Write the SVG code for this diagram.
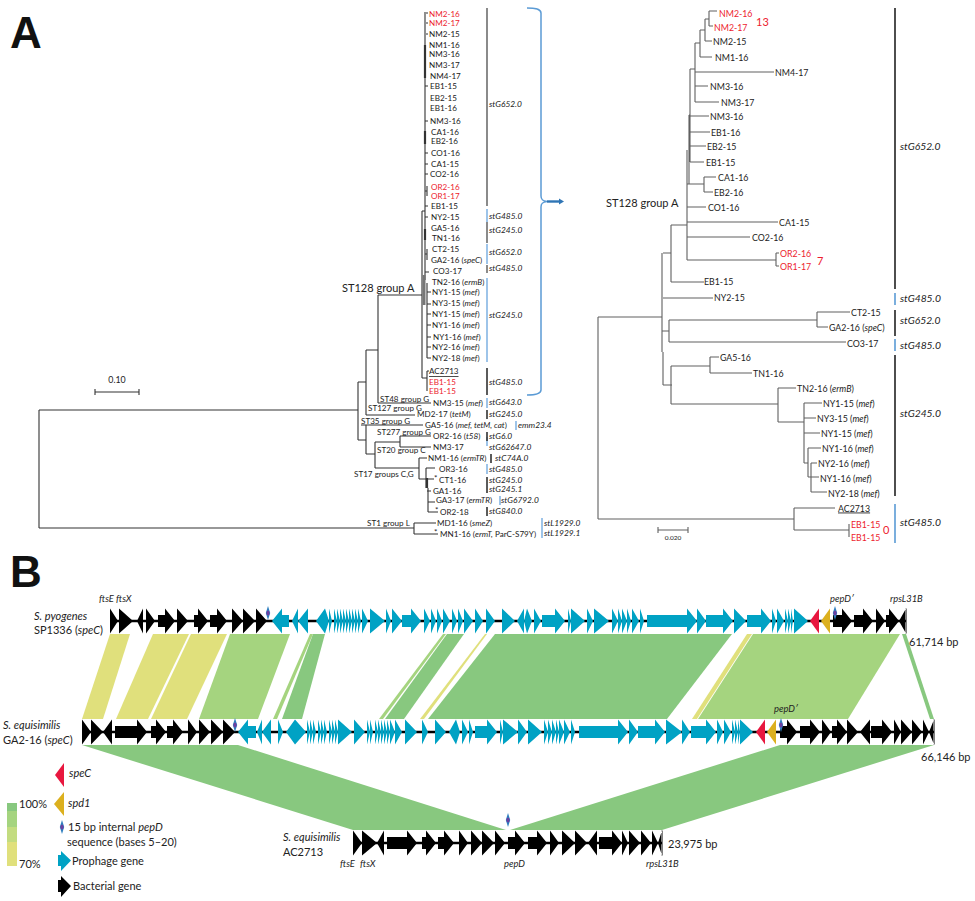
<svg xmlns="http://www.w3.org/2000/svg" width="975" height="901" viewBox="0 0 975 901">
<style>
text{font-family:Lato,"Liberation Sans",sans-serif;fill:#222;dominant-baseline:central}
.s{font-size:8.100px}
.m{font-size:8.800px}
.c{font-size:11px}
.st{font-size:8.400px;font-style:italic}
.sr{font-size:10.300px;font-style:italic}
.r{fill:#ed1c2e}
.i{font-style:italic}
.pan{font-family:"Liberation Sans",sans-serif;font-size:44px;font-weight:bold;fill:#111}
.gl{font-size:9.400px;font-style:italic}
.tr{fill:none;stroke:#333;stroke-width:1.100}
.trr{fill:none;stroke:#606060;stroke-width:1.100}
.bk{fill:none;stroke:#333;stroke-width:1.600}
.bl{fill:none;stroke:#86b6e4;stroke-width:1.600}
.spine{stroke:#000;stroke-width:2.600}
.k{fill:#000}.b{fill:#00a2c4}.re{fill:#e8173f}.go{fill:#dcb01e}
.y1{fill:#88c87f}.y2{fill:#a5d47f}.y3{fill:#c3dc80}.y4{fill:#e0e07c}
</style>
<defs>
<g id="mk"><path d="M0-7L2.200 0 0 7-2.200 0z" fill="#2f7fc0"/><ellipse rx="1.600" ry="2.600" fill="#6b3fa0"/></g>
</defs>

<text class="pan" x="10" y="32">A</text>
<text class="pan" x="10" y="571">B</text>

<g id="left-tree-connectors" class="tr">
<path d="M39 410V528M39 410H358M39 528H414M358 382V440M358 382H366M366 350V415M366 350H378M378 295V403M378 295H422M378 403H431M366 415H415M358 440H366M366 425V454M361 425H423M366 454H375M375 442V468M375 442H400M400 436V447M400 436H431M400 447H431M375 468H419M419 458V479M419 458H427M419 479H426M426 468V488M426 468H435M427 479H434M427 491H431M428 488V512M428 502H435M428 512H438M414 523V534M414 523H436M414 534H438"/>
<path d="M425 12V211M422 211V378M425 211V280M422 211H425M426 13H428M426 23H428M426 34H428M425 86H428M425 121H428M425 153H428M425 164H428M425 174H428M425 206H428M425 217H428M425 272H429M425 191H427M427 186V196M425 254H427M427 249V260M427 283V358M427 292H431M427 304H431M427 314H431M427 325H431M427 337H431M427 347H431M427 358H431M422 378H427M427 371V391M427 371H429"/>
<path stroke-width="2.200" d="M425 45V78M425 131V144M425 229V240M427 478V488"/>
<path stroke-width="3" stroke="#777" d="M424 275V305"/>
</g>

<g id="left-tips">
<g id="L01"><text class="s r" x="429" y="14">NM2-16</text></g>
<g id="L02"><text class="s r" x="429" y="23">NM2-17</text></g>
<g id="L03"><text class="s" x="429" y="34">NM2-15</text></g>
<g id="L04"><text class="s" x="429" y="45">NM1-16</text></g>
<g id="L05"><text class="s" x="429" y="54">NM3-16</text></g>
<g id="L06"><text class="s" x="429" y="65">NM3-17</text></g>
<g id="L07"><text class="s" x="430" y="76">NM4-17</text></g>
<g id="L08"><text class="s" x="430" y="86">EB1-15</text></g>
<g id="L09"><text class="s" x="430" y="98">EB2-15</text></g>
<g id="L10"><text class="s" x="430" y="108">EB1-16</text></g>
<g id="L11"><text class="s" x="430" y="121">NM3-16</text></g>
<g id="L12"><text class="s" x="431" y="132">CA1-16</text></g>
<g id="L13"><text class="s" x="431" y="141">EB2-16</text></g>
<g id="L14"><text class="s" x="431" y="153">CO1-16</text></g>
<g id="L15"><text class="s" x="431" y="164">CA1-15</text></g>
<g id="L16"><text class="s" x="430" y="174">CO2-16</text></g>
<g id="L17"><text class="s r" x="431" y="187">OR2-16</text></g>
<g id="L18"><text class="s r" x="431" y="196">OR1-17</text></g>
<g id="L19"><text class="s" x="431" y="206">EB1-15</text></g>
<g id="L20"><text class="s" x="431" y="217">NY2-15</text></g>
<g id="L21"><text class="s" x="431" y="228">GA5-16</text></g>
<g id="L22"><text class="s" x="432" y="238">TN1-16</text></g>
<g id="L23"><text class="s" x="432" y="249">CT2-15</text></g>
<g id="L24"><text class="s" x="431" y="260">GA2-16 (<tspan class="i">speC</tspan>)</text></g>
<g id="L25"><text class="s" x="433" y="271">CO3-17</text></g>
<g id="L26"><text class="s" x="432" y="282">TN2-16 (<tspan class="i">ermB</tspan>)</text></g>
<g id="L27"><text class="s" x="432" y="292">NY1-15 (<tspan class="i">mef</tspan>)</text></g>
<g id="L28"><text class="s" x="432" y="303">NY3-15 (<tspan class="i">mef</tspan>)</text></g>
<g id="L29"><text class="s" x="432" y="314">NY1-15 (<tspan class="i">mef</tspan>)</text></g>
<g id="L30"><text class="s" x="432" y="325">NY1-16 (<tspan class="i">mef</tspan>)</text></g>
<g id="L31"><text class="s" x="433" y="337">NY1-16 (<tspan class="i">mef</tspan>)</text></g>
<g id="L32"><text class="s" x="432" y="347">NY2-16 (<tspan class="i">mef</tspan>)</text></g>
<g id="L33"><text class="s" x="432" y="358">NY2-18 (<tspan class="i">mef</tspan>)</text></g>
<g id="L34"><text class="s" x="429" y="371" text-decoration="underline">AC2713</text></g>
<g id="L35"><text class="s r" x="429" y="382">EB1-15</text></g>
<g id="L36"><text class="s r" x="429" y="391">EB1-15</text></g>
<g id="L37"><text class="s" x="433" y="403">NM3-15 (<tspan class="i">mef</tspan>)</text></g>
<g id="L38"><text class="s" x="417" y="414">MD2-17 (<tspan class="i">tetM</tspan>)</text></g>
<g id="L39"><text class="s" x="425" y="425">GA5-16 (<tspan class="i">mef, tetM, cat</tspan>)</text></g>
<g id="L40"><text class="s" x="433" y="436">OR2-16 (<tspan class="i">t58</tspan>)</text></g>
<g id="L41"><text class="s" x="433" y="447">NM3-17</text></g>
<g id="L42"><text class="s" x="428" y="458">NM1-16 (<tspan class="i">ermTR</tspan>)</text></g>
<g id="L43"><text class="s" x="439" y="469">OR3-16</text></g>
<g id="L44"><text class="s" x="434" y="478">*</text><text class="s" x="439" y="480">CT1-16</text></g>
<g id="L45"><text class="s" x="433" y="491">GA1-16</text></g>
<g id="L46"><text class="s" x="436" y="500">GA3-17 (<tspan class="i">ermTR</tspan>)</text></g>
<g id="L47"><text class="s" x="435" y="510">*</text><text class="s" x="440" y="512">OR2-18</text></g>
<g id="L48"><text class="s" x="437" y="523">MD1-16 (<tspan class="i">smeZ</tspan>)</text></g>
<g id="L49"><text class="s" x="434" y="532">*</text><text class="s" x="440" y="534">MN1-16 (<tspan class="i">ermT,</tspan> ParC-S79Y)</text></g>
</g>

<g id="left-groups">
<text class="c" x="342" y="287">ST128 group A</text>
<text class="s" x="380" y="399">ST48 group G</text>
<text class="s" x="368" y="408">ST127 group G</text>
<text class="s" x="361" y="421">ST35 group G</text>
<text class="s" x="377" y="432">ST277 group G</text>
<text class="s" x="377" y="450">ST20 group C</text>
<text class="s" x="354" y="474">ST17 groups C,G</text>
<text class="s" x="367" y="523">ST1 group L</text>
</g>

<g id="left-scale">
<text class="m" x="117" y="379" text-anchor="middle">0.10</text>
<path class="tr" d="M95 392H139M95 389V395M139 389V395"/>
</g>

<g id="left-st-bars">
<path class="bk" style="stroke:#6e6e6e" d="M487 8V206M487 222V243M487 265V273"/>
<path class="bl" d="M487 209V222M487 244V264M487 278V362M487 398V408M516 421V430M487 437V446M487 464V474M500 496V505M542 518V538"/>
<path class="bk" d="M487 368V395M487 410V419M491 454V463M487 477V493M487 507V516M487 432V441"/>
</g>
<g id="left-st-labels">
<text class="st" x="489" y="104">stG652.0</text>
<text class="st" x="489" y="216">stG485.0</text>
<text class="st" x="489" y="230">stG245.0</text>
<text class="st" x="489" y="252">stG652.0</text>
<text class="st" x="489" y="268">stG485.0</text>
<text class="st" x="489" y="315">stG245.0</text>
<text class="st" x="489" y="382">stG485.0</text>
<text class="st" x="489" y="402">stG643.0</text>
<text class="st" x="489" y="414">stG245.0</text>
<text class="st" x="518" y="425">emm23.4</text>
<text class="st" x="489" y="436">stG6.0</text>
<text class="st" x="489" y="447">stG62647.0</text>
<text class="st" x="495" y="458">stC74A.0</text>
<text class="st" x="489" y="469">stG485.0</text>
<text class="st" x="489" y="480">stG245.0</text>
<text class="st" x="489" y="489">stG245.1</text>
<text class="st" x="501" y="500">stG6792.0</text>
<text class="st" x="489" y="511">stG840.0</text>
<text class="st" x="544" y="523">stL1929.0</text>
<text class="st" x="544" y="533">stL1929.1</text>
</g>

<g id="brace">
<path d="M527 8C533 8 541 8 541 13V196C541 200 543 201 547 201.500C543 202 541 203 541 207V390C541 394 533 395 527 395" fill="none" stroke="#5b9bd5" stroke-width="1.500"/>
<path d="M547 201.500H560" fill="none" stroke="#2f75b5" stroke-width="2.400"/>
<path d="M559 198.500L564 201.500 559 204.500z" fill="#2f75b5"/>
</g>

<g id="right-tree-connectors" class="trr">
<path d="M598 317V519M598 317H662M598 519H794M794 508V530M794 508H835M794 530H849M849 524V537M662 253V352M663 253H671M671 225V282M671 225H687M671 282H704M663 298H713M662 331H669M669 320V342M669 320H817M817 312V327M817 312H850M817 327H828M669 342H846M663 352V385M663 385H672M671 366V404M671 366H710M710 357V373M710 357H719M710 373H752M671 404H778M778 388V422M778 388H796M778 422H804M804 403V463M804 403H822M804 418H816M804 433H820M804 463H808M808 448V477M808 448H821M808 477H811M811 463V492M811 463H817M811 477H819M811 492H827"/>
<path d="M687 150V260M687 260H776M776 253V266M776 253H779M776 266H779M687 237H750M687 222H778M687 207H706M687 184H704M704 177V192M704 177H716M704 192H713M689 115V184M689 115H690M690 69V162M690 69H695M695 43V102M695 43H700M700 30V57M700 57H712M700 30H705M705 19V41M705 19H709M709 11V26M709 11H717M709 26H713M705 41H712M695 72H774M695 86H708M695 102H719M690 116H709M690 132H710M690 146H706M690 162H704"/>
</g>

<g id="right-tips">
<g id="R01"><text class="m r" x="719" y="13">NM2-16</text></g>
<g id="R02"><text class="m r" x="714" y="27">NM2-17</text></g>
<g id="R03"><text class="m" x="713" y="41.500">NM2-15</text></g>
<g id="R04"><text class="m" x="715" y="57">NM1-16</text></g>
<g id="R05"><text class="m" x="775" y="72">NM4-17</text></g>
<g id="R06"><text class="m" x="710" y="86.500">NM3-16</text></g>
<g id="R07"><text class="m" x="721" y="102">NM3-17</text></g>
<g id="R08"><text class="m" x="710" y="116.500">NM3-16</text></g>
<g id="R09"><text class="m" x="711" y="132">EB1-16</text></g>
<g id="R10"><text class="m" x="707" y="146">EB2-15</text></g>
<g id="R11"><text class="m" x="706" y="162">EB1-15</text></g>
<g id="R12"><text class="m" x="718" y="177">CA1-16</text></g>
<g id="R13"><text class="m" x="714" y="192">EB2-16</text></g>
<g id="R14"><text class="m" x="708" y="207">CO1-16</text></g>
<g id="R15"><text class="m" x="779" y="222">CA1-15</text></g>
<g id="R16"><text class="m" x="752" y="237.500">CO2-16</text></g>
<g id="R17"><text class="m r" x="780" y="253">OR2-16</text></g>
<g id="R18"><text class="m r" x="780" y="266">OR1-17</text></g>
<g id="R19"><text class="m" x="704" y="281">EB1-15</text></g>
<g id="R20"><text class="m" x="714" y="297.500">NY2-15</text></g>
<g id="R21"><text class="m" x="851" y="312">CT2-15</text></g>
<g id="R22"><text class="m" x="829" y="327">GA2-16 (<tspan class="i">speC</tspan>)</text></g>
<g id="R23"><text class="m" x="847" y="343">CO3-17</text></g>
<g id="R24"><text class="m" x="720" y="357">GA5-16</text></g>
<g id="R25"><text class="m" x="753" y="373">TN1-16</text></g>
<g id="R26"><text class="m" x="797" y="388">TN2-16 (<tspan class="i">ermB</tspan>)</text></g>
<g id="R27"><text class="m" x="823" y="403">NY1-15 (<tspan class="i">mef</tspan>)</text></g>
<g id="R28"><text class="m" x="817" y="418">NY3-15 (<tspan class="i">mef</tspan>)</text></g>
<g id="R29"><text class="m" x="821" y="433">NY1-15 (<tspan class="i">mef</tspan>)</text></g>
<g id="R30"><text class="m" x="822" y="448">NY1-16 (<tspan class="i">mef</tspan>)</text></g>
<g id="R31"><text class="m" x="818" y="463">NY2-16 (<tspan class="i">mef</tspan>)</text></g>
<g id="R32"><text class="m" x="820" y="478">NY1-16 (<tspan class="i">mef</tspan>)</text></g>
<g id="R33"><text class="m" x="828" y="493">NY2-18 (<tspan class="i">mef</tspan>)</text></g>
<g id="R34"><text class="m" x="838" y="508" text-decoration="underline">AC2713</text></g>
<g id="R35"><text class="m r" x="851" y="524">EB1-15</text></g>
<g id="R36"><text class="m r" x="851" y="537">EB1-15</text></g>
</g>
<g id="right-notes">
<text class="c r" x="756" y="21">13</text>
<text class="c r" x="817" y="260">7</text>
<text class="c r" x="883" y="529">0</text>
<text class="c" x="606" y="202">ST128 group A</text>
<path class="trr" d="M658 530H688M658 527V533M688 527V533"/>
<text font-size="6.500" x="673" y="537" text-anchor="middle">0.020</text>
</g>
<g id="right-st">
<path class="bk" style="stroke:#222" d="M895 8V289M895 310V336M895 355V496"/>
<path class="bl" style="stroke:#5b9bd5" d="M895 293V305M895 339V351M895 504V543"/>
<text class="sr" x="900" y="145.500">stG652.0</text>
<text class="sr" x="900" y="298">stG485.0</text>
<text class="sr" x="900" y="320">stG652.0</text>
<text class="sr" x="900" y="344.500">stG485.0</text>
<text class="sr" x="900" y="413">stG245.0</text>
<text class="sr" x="900" y="522">stG485.0</text>
</g>

<g id="ribbons">
<path class="y4" d="M110 634H130L103 719H82z"/>
<path class="y4" d="M153 634H189L148 719H116z"/>
<path class="y4" d="M191 634H227L187 719H151z"/>
<path class="y2" d="M230 634H290L258 719H199z"/>
<path class="y2" d="M310 634H313L277 719H273z"/>
<path class="y1" d="M313 634H325L302 719H282z"/>
<path class="y2" d="M443 634H446L383 719H379z"/>
<path class="y1" d="M447 634H464L404 719H385z"/>
<path class="y4" d="M485 634H487L424 719H420z"/>
<path class="y1" d="M495 634H732L667 719H428z"/>
<path class="y4" d="M747 634H752L697 719H692z"/>
<path class="y2" d="M753 634H900L848 719H698z"/>
<path class="y1" d="M902 634H906L934 719H930z"/>
<path class="y1" d="M82 745H238L506 830H353z"/>
<path class="y1" d="M780 745H934L662 830H510z"/>
</g>

<g id="track-1" transform="translate(0,621)">
<path class="spine" d="M110 0H906"/>
<path class="k" d="M110-12.500L118 0 110 12.500zM119-12.500L133 0 119 12.500zM143-12.500L137 0 143 12.500zM146-12.500L155 0 146 12.500zM158-6H165V-12.500L175 0 165 12.500V6H158zM177-12.500L188 0 177 12.500zM194-6H198V-12.500L208 0 198 12.500V6H194zM210-6H217V-12.500L227 0 217 12.500V6H210zM232-12.500L243 0 232 12.500zM243-12.500L255 0 243 12.500zM256-12.500L267 0 256 12.500zM833-6H842V-12.500L852 0 842 12.500V6H833zM854-6H863V-12.500L873 0 863 12.500V6H854zM876-12.500L885 0 876 12.500zM886-6H889V-12.500L899 0 889 12.500V6H886zM906-12.500L899 0 906 12.500zM905.500-12.500H906.500V12.500H905.500z"/>
<path class="b" d="M289-6H282V-12.500L272 0 282 12.500V6H289zM298-12.500L292 0 298 12.500zM308-12.500L298 0 308 12.500zM325-12.500L316 0 325 12.500zM325-12.500L329 0 325 12.500zM329-12.500L332 0 329 12.500zM334-12.500L337 0 334 12.500zM337-12.500L340 0 337 12.500zM340-12.500L343 0 340 12.500zM343-12.500L346 0 343 12.500zM346-12.500L349 0 346 12.500zM349-12.500L352 0 349 12.500zM352-12.500L355 0 352 12.500zM355-12.500L358 0 355 12.500zM358-12.500L361 0 358 12.500zM362-12.500L368 0 362 12.500zM370-12.500L385 0 370 12.500zM386-12.500L391 0 386 12.500zM392-12.500L402 0 392 12.500zM402-6H411V-12.500L421 0 411 12.500V6H402zM424-12.500L430 0 424 12.500zM431-12.500L436 0 431 12.500zM437-12.500L442 0 437 12.500zM443-12.500L450 0 443 12.500zM452-12.500L457 0 452 12.500zM458-12.500L463 0 458 12.500zM464-12.500L473 0 464 12.500zM475-12.500L483 0 475 12.500zM486-12.500L495 0 486 12.500zM502-12.500L515 0 502 12.500zM524-12.500L517 0 524 12.500zM527-12.500L524 0 527 12.500zM527-12.500L532 0 527 12.500zM534-12.500L541 0 534 12.500zM542-6H555V-12.500L565 0 555 12.500V6H542zM568-12.500L571 0 568 12.500zM571-12.500L585 0 571 12.500zM587-12.500L593 0 587 12.500zM594-12.500L609 0 594 12.500zM612-12.500L618 0 612 12.500zM618-12.500L622 0 618 12.500zM622-12.500L627 0 622 12.500zM627-12.500L631 0 627 12.500zM632-12.500L639 0 632 12.500zM640-12.500L644 0 640 12.500zM647-6H687V-12.500L697 0 687 12.500V6H647zM697-12.500L706 0 697 12.500zM706-6H723V-12.500L733 0 723 12.500V6H706zM734-12.500L746 0 734 12.500zM747-6H761V-12.500L771 0 761 12.500V6H747zM772-12.500L776 0 772 12.500zM777-12.500L784 0 777 12.500zM785-12.500L788 0 785 12.500zM788-12.500L791 0 788 12.500zM791-12.500L793 0 791 12.500zM794-12.500L808 0 794 12.500z"/>
<path class="re" d="M819-12.500L810 0 819 12.500z"/>
<path class="go" d="M830-12.500L821 0 830 12.500z"/>
<use href="#mk" x="268" y="-8"/><use href="#mk" x="835" y="-8"/>
</g>

<g id="track-2" transform="translate(0,732)">
<path class="spine" d="M82 0H934"/>
<path class="k" d="M82-12.500L91 0 82 12.500zM91-12.500L103 0 91 12.500zM112-12.500L103 0 112 12.500zM115-6H137V-12.500L147 0 137 12.500V6H115zM151-6H156V-12.500L166 0 156 12.500V6H151zM167-6H173V-12.500L183 0 173 12.500V6H167zM188-12.500L197 0 188 12.500zM199-12.500L210 0 199 12.500zM211-12.500L223 0 211 12.500zM223-12.500L235 0 223 12.500zM780-6H787V-12.500L797 0 787 12.500V6H780zM800-6H810V-12.500L820 0 810 12.500V6H800zM822-12.500L831 0 822 12.500zM832-6H837V-12.500L847 0 837 12.500V6H832zM847-12.500L858 0 847 12.500zM870-12.500L860 0 870 12.500zM871-6H882V-12.500L892 0 882 12.500V6H871zM894-12.500L901 0 894 12.500zM901-12.500L912 0 901 12.500zM912-12.500L922 0 912 12.500zM923-12.500L929 0 923 12.500zM934-12.500L929 0 934 12.500zM933.500-12.500H934.500V12.500H933.500z"/>
<path class="b" d="M256-6H248V-12.500L238 0 248 12.500V6H256zM262-12.500L257 0 262 12.500zM271-12.500L262 0 271 12.500zM278-12.500L283 0 278 12.500zM295-12.500L286 0 295 12.500zM295-12.500L306 0 295 12.500zM307-12.500L310 0 307 12.500zM310-12.500L313 0 310 12.500zM313-12.500L316 0 313 12.500zM318-12.500L321 0 318 12.500zM321-12.500L324 0 321 12.500zM324-12.500L327 0 324 12.500zM329-12.500L332 0 329 12.500zM332-12.500L335 0 332 12.500zM335-12.500L338 0 335 12.500zM338-12.500L352 0 338 12.500zM354-12.500L365 0 354 12.500zM367-12.500L370 0 367 12.500zM370-12.500L373 0 370 12.500zM375-12.500L378 0 375 12.500zM378-12.500L381 0 378 12.500zM381-12.500L384 0 381 12.500zM384-12.500L387 0 384 12.500zM387-12.500L390 0 387 12.500zM390-12.500L395 0 390 12.500zM395-12.500L402 0 395 12.500zM405-12.500L417 0 405 12.500zM422-12.500L428 0 422 12.500zM435-12.500L446 0 435 12.500zM456-12.500L449 0 456 12.500zM456-12.500L460 0 456 12.500zM462-12.500L468 0 462 12.500zM469-12.500L473 0 469 12.500zM475-6H487V-12.500L497 0 487 12.500V6H475zM500-12.500L503 0 500 12.500zM503-12.500L518 0 503 12.500zM518-12.500L527 0 518 12.500zM528-12.500L542 0 528 12.500zM544-12.500L548 0 544 12.500zM548-12.500L552 0 548 12.500zM552-12.500L556 0 552 12.500zM556-12.500L559 0 556 12.500zM559-12.500L564 0 559 12.500zM564-12.500L570 0 564 12.500zM571-12.500L575 0 571 12.500zM579-6H618V-12.500L628 0 618 12.500V6H579zM629-12.500L638 0 629 12.500zM638-6H655V-12.500L665 0 655 12.500V6H638zM666-12.500L682 0 666 12.500zM682-12.500L690 0 682 12.500zM691-6H706V-12.500L716 0 706 12.500V6H691zM717-12.500L723 0 717 12.500zM724-12.500L731 0 724 12.500zM732-12.500L735 0 732 12.500zM735-12.500L738 0 735 12.500zM738-12.500L740 0 738 12.500zM740-12.500L753 0 740 12.500z"/>
<path class="re" d="M765-12.500L756 0 765 12.500z"/>
<path class="go" d="M776-12.500L767 0 776 12.500z"/>
<use href="#mk" x="235" y="-7"/><use href="#mk" x="781" y="-7"/>
</g>

<g id="track-3" transform="translate(0,843)">
<path class="spine" d="M353 0H662"/>
<path class="k" d="M353-12.500L362 0 353 12.500zM362-12.500L377 0 362 12.500zM384-12.500L377 0 384 12.500zM387-6H407V-12.500L417 0 407 12.500V6H387zM422-6H426V-12.500L436 0 426 12.500V6H422zM438-6H444V-12.500L454 0 444 12.500V6H438zM459-12.500L468 0 459 12.500zM471-12.500L482 0 471 12.500zM482-12.500L494 0 482 12.500zM495-12.500L505 0 495 12.500zM508-6H515V-12.500L525 0 515 12.500V6H508zM528-6H537V-12.500L547 0 537 12.500V6H528zM550-12.500L559 0 550 12.500zM562-12.500L575 0 562 12.500zM575-12.500L587 0 575 12.500zM597-12.500L588 0 597 12.500zM599-6H612V-12.500L622 0 612 12.500V6H599zM622-12.500L628 0 622 12.500zM629-12.500L640 0 629 12.500zM641-12.500L651 0 641 12.500zM652-12.500L658 0 652 12.500zM662-12.500L658 0 662 12.500zM661.500-12.500H662.500V12.500H661.500z"/>
</g>
<use id="marker-3" href="#mk" x="508" y="820"/>

<g id="gene-labels">
<text class="gl" x="99" y="598">ftsE ftsX</text>
<text class="gl" x="830" y="598">pepD′</text>
<text class="gl" x="890" y="598">rpsL31B</text>
<text class="gl" x="774" y="708">pepD′</text>
<text class="gl" x="340" y="863">ftsE</text>
<text class="gl" x="360" y="863">ftsX</text>
<text class="gl" x="504" y="863">pepD</text>
<text class="gl" x="646" y="863">rpsL31B</text>
</g>
<g id="track-names">
<text class="c" x="34" y="615"><tspan class="i">S. pyogenes</tspan></text>
<text class="c" x="34" y="629">SP1336 (<tspan class="i">speC</tspan>)</text>
<text class="c" x="3" y="724"><tspan class="i">S. equisimilis</tspan></text>
<text class="c" x="3" y="739">GA2-16 (<tspan class="i">speC</tspan>)</text>
<text class="c" x="283" y="836"><tspan class="i">S. equisimilis</tspan></text>
<text class="c" x="283" y="851">AC2713</text>
<text class="c" x="909" y="641">61,714 bp</text>
<text class="c" x="921" y="756">66,146 bp</text>
<text class="c" x="668" y="843">23,975 bp</text>
</g>

<g id="legend">
<rect class="y1" x="7" y="803" width="10" height="8"/>
<rect class="y2" x="7" y="811" width="10" height="16"/>
<rect class="y3" x="7" y="827" width="10" height="15"/>
<rect class="y4" x="7" y="842" width="10" height="24"/>
<text class="c" x="19" y="803">100%</text>
<text class="c" x="19" y="863">70%</text>
<path class="re" d="M64 763L55 775 64 787z"/>
<text class="c i" x="69" y="772">speC</text>
<path class="go" d="M64 792L54 804 64 816z"/>
<text class="c i" x="68" y="802">spd1</text>
<use href="#mk" x="62" y="827"/>
<text class="c" x="68" y="826">15 bp internal <tspan class="i">pepD</tspan></text>
<text class="c" x="67" y="841">sequence (bases 5–20)</text>
<path class="b" d="M58 855H61V851L71 860.500 61 871V866H58z"/>
<text class="c" x="72" y="860">Prophage gene</text>
<path class="k" d="M58 880H61V876L71 886 61 897V892H58z"/>
<text class="c" x="73" y="885">Bacterial gene</text>
</g>
</svg>
